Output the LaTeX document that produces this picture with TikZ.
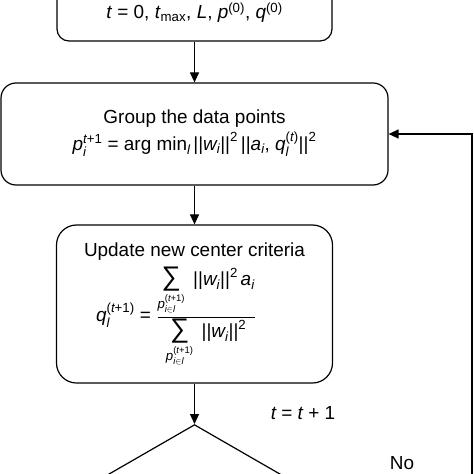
\documentclass[tikz,border=0pt]{standalone}
\usepackage{amsmath}
\usepackage{fontspec}
\setmainfont{Liberation Sans}
\usetikzlibrary{arrows.meta,shapes.geometric}
\newcommand\vi[1]{\text{\itshape #1}}
\newcommand\tx[1]{\text{#1}}
\begin{document}
\begin{tikzpicture}[x=1bp,y=-1bp, line width=1.2bp,
  box/.style={draw, rounded corners=#1, inner sep=0pt},
  box/.default=15bp,
  lbl/.style={font=\fontsize{19}{27}\selectfont, inner sep=0pt, align=center},
  arr/.style={-{Triangle[length=10bp,width=9bp]}}]
\useasboundingbox (0,0) rectangle (474,474);
\clip (0,0) rectangle (474,474);
% boxes
\node[box=12bp, minimum width=275bp, minimum height=101bp] (init) at (194.5,-9.5) {};
\node[lbl] (inittext) at (194.5,13) {\textit{t} = 0, \textit{t}\textsubscript{max}, \textit{L}, \textit{p}\textsuperscript{(0)}, \textit{q}\textsuperscript{(0)}};
\node[box=15bp, minimum width=387bp, minimum height=102bp] (group) at (194.5,134) {};
\node[lbl] (grouptext) at (194.5,133) {Group the data points\\
$\vi{p}_{\vi{i}}^{\vi{t}\tx{+1}}\tx{ = arg min}_{\vi{l}}\,\tx{||}\vi{w}_{\vi{i}}\tx{||}^{\tx{2}}\,\tx{||}\vi{a}_{\vi{i}}\tx{, }\vi{q}_{\vi{l}}^{\tx{(}\vi{t}\tx{)}}\tx{||}^{\tx{2}}$};
\node[box=20bp, minimum width=276bp, minimum height=158bp] (update) at (194.5,304) {};
\node[lbl] (updtitle) at (194.5,252) {Update new center criteria};
\node[lbl] (updformula) at (176,317) {$\vi{q}_{\vi{l}}^{\tx{(}\vi{t}\tx{+1)}}\tx{ = }\displaystyle\frac{\mathop{\tx{\fontsize{27}{27}\selectfont ∑}}\limits_{\vi{p}_{\vi{i}\in\vi{l}}^{\tx{(}\vi{t}\tx{+1)}}}\tx{ ||}\vi{w}_{\vi{i}}\tx{||}^{\tx{2}}\,\vi{a}_{\vi{i}}}{\mathop{\tx{\fontsize{27}{27}\selectfont ∑}}\limits_{\vi{p}_{\vi{i}\in\vi{l}}^{\tx{(}\vi{t}\tx{+1)}}}\tx{ ||}\vi{w}_{\vi{i}}\tx{||}^{\tx{2}}}$};
% decision
\node[draw, diamond, shape aspect=1.735, minimum width=347bp, minimum height=200bp, inner sep=0pt, anchor=north] (dec) at (194.5,424) {};
% connectors
\draw[arr] (init.south) -- (group.north);
\draw[arr] (group.south) -- (update.north);
\draw[arr] (update.south) -- (dec.north);
\coordinate (loopstart) at (472,490);
\draw[arr] (loopstart) |- (group.east);
% labels
\node[lbl] (tinc) at (303,413) {$\vi{t}\tx{ = }\vi{t}\tx{ + 1}$};
\node[lbl] (no) at (402,463) {No};
\end{tikzpicture}
\end{document}
